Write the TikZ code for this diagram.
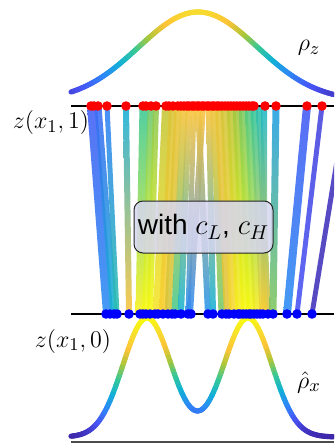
\documentclass[tikz,border=0pt]{standalone}
\usepackage{fontspec}
\setsansfont{Liberation Sans}
\definecolor{par0}{rgb}{0.2422,0.1504,0.6603}
\definecolor{par1}{rgb}{0.2810,0.3228,0.9579}
\definecolor{par2}{rgb}{0.1786,0.5289,0.9682}
\definecolor{par3}{rgb}{0.0689,0.6948,0.8394}
\definecolor{par4}{rgb}{0.2161,0.7843,0.5923}
\definecolor{par5}{rgb}{0.6720,0.7793,0.2227}
\definecolor{par6}{rgb}{0.9970,0.7659,0.2199}
\definecolor{par7}{rgb}{0.9657,0.8728,0.1742}
\definecolor{par8}{rgb}{0.9763,0.9831,0.0538}
\definecolor{par9}{rgb}{0.9763,0.9831,0.0538}
\definecolor{boxfill}{rgb}{0.84,0.84,0.94}
\newcommand\setparula[2]{%
  \pgfmathsetmacro\myT{max(0,min(0.999,#1))}%
  \pgfmathtruncatemacro\mySeg{int(\myT*8)}%
  \pgfmathtruncatemacro\myNext{\mySeg+1}%
  \pgfmathtruncatemacro\myPct{round((\myT*8-\mySeg)*100)}%
  \edef\myExpr{par\myNext!\myPct!par\mySeg}%
  \colorlet{#2}{\myExpr}%
}
\tikzset{
  lbl/.style={font=\fontsize{13}{15}\selectfont, inner sep=0pt},
  axisline/.style={black, line width=1pt},
  curveseg/.style={line width=2.6pt, line cap=round},
}
\begin{document}
\begin{tikzpicture}[x=0.5pt,y=-0.5pt]
\useasboundingbox (0,0) rectangle (334,443);
\begin{scope}
\clip (0,0) rectangle (334,443);
% connecting bands
\foreach \xt/\xbot/\w in {92/108/10,98/114/7,107/117/5,126/129/6,144/140/9,151/146/7,156/150/6,
  167/158/10,173/163/8,178/168/7,184/175/7,189/181/6,194/188/5,203/190/6,
  198/208/6,209/213/6,214/222/7,219/228/8,225/234/9,231/240/9,237/246/9,243/251/9,
  249/257/8,254/263/7,259/268/6,264/264/6,276/273/7,307/287/8,322/297/5,346/312/5}{
  \pgfmathsetmacro\ttop{0.76*exp(-0.5*((\xt-198)/59.3)^2)}
  \pgfmathsetmacro\tbot{exp(-min(10,0.5*((\xbot-147)/24)^2))+exp(-min(10,0.5*((\xbot-248)/24)^2))}
  \setparula{\ttop}{ctop}
  \setparula{\tbot}{cbot}
  \shade[top color=ctop, bottom color=cbot, opacity=0.88]
    (\xt-\w/2,106) -- (\xt+\w/2,106) -- (\xbot+\w/2,314) -- (\xbot-\w/2,314) -- cycle;
}
% top density curve
\foreach \i in {0,...,174}{
  \pgfmathsetmacro\xa{71+\i*1.5}
  \pgfmathsetmacro\xe{\xa+1.5}
  \pgfmathsetmacro\xm{\xa+0.75}
  \pgfmathsetmacro\ya{101-89*exp(-0.5*((\xa-198)/59.3)^2)}
  \pgfmathsetmacro\ye{101-89*exp(-0.5*((\xe-198)/59.3)^2)}
  \pgfmathsetmacro\tc{0.86*exp(-0.5*((\xm-198)/59.3)^2)}
  \setparula{\tc}{cc}
  \draw[curveseg, cc] (\xa,\ya) -- (\xe,\ye);
}
% bottom density curve
\foreach \i in {0,...,174}{
  \pgfmathsetmacro\xa{71+\i*1.5}
  \pgfmathsetmacro\xe{\xa+1.5}
  \pgfmathsetmacro\xm{\xa+0.75}
  \pgfmathsetmacro\ga{exp(-min(10,0.5*((\xa-147)/24)^2))+exp(-min(10,0.5*((\xa-248)/24)^2))}
  \pgfmathsetmacro\ge{exp(-min(10,0.5*((\xe-147)/24)^2))+exp(-min(10,0.5*((\xe-248)/24)^2))}
  \pgfmathsetmacro\gm{exp(-min(10,0.5*((\xm-147)/24)^2))+exp(-min(10,0.5*((\xm-248)/24)^2))}
  \setparula{\gm}{cc}
  \draw[curveseg, cc] (\xa,437-119*\ga) -- (\xe,437-119*\ge);
}
\end{scope}
% axis lines
\coordinate (tl) at (71,106);  \coordinate (tr) at (334,106);
\coordinate (bl) at (71,314);  \coordinate (br) at (334,314);
\coordinate (gl) at (71,442);  \coordinate (gr) at (334,442);
\draw[axisline] (tl) -- (tr);
\draw[axisline] (bl) -- (br);
\draw[black!70, line width=0.75pt] (gl) -- (gr);
% dots
\foreach \x in {91,94,98,107,126,143,146,151,156,166,169,173,178,181,184,187,189,192,194,197,199,202,204,207,209,212,214,217,219,222,225,228,231,234,237,240,243,246,249,252,254,265,276,307,322}
  \fill[red] (\x,106) circle (2.4pt);
\foreach \x in {106,110,114,117,129,140,143,146,150,155,158,163,168,172,175,181,188,191,208,213,222,226,229,234,238,240,243,246,249,251,254,257,260,263,268,273,287,297,312}
  \fill[blue] (\x,314) circle (2.4pt);
% box
\node[draw=black!85, line width=0.5pt, rounded corners=4.5pt, fill=boxfill, fill opacity=0.85,
  text opacity=1, minimum width=69.5pt, minimum height=26pt, inner sep=0pt,
  font=\sffamily\fontsize{14}{16}\selectfont] (box) at (203.5,227) {with $c_L$, $c_H$};
% labels
\node[lbl] (rz) at (309,48) {$\rho_z$};
\node[lbl] (z1) at (51,123) {$z(x_1,1)$};
\node[lbl] (z0) at (73,341) {$z(x_1,0)$};
\node[lbl] (rx) at (309,382) {$\hat\rho_x$};
\end{tikzpicture}
\end{document}
